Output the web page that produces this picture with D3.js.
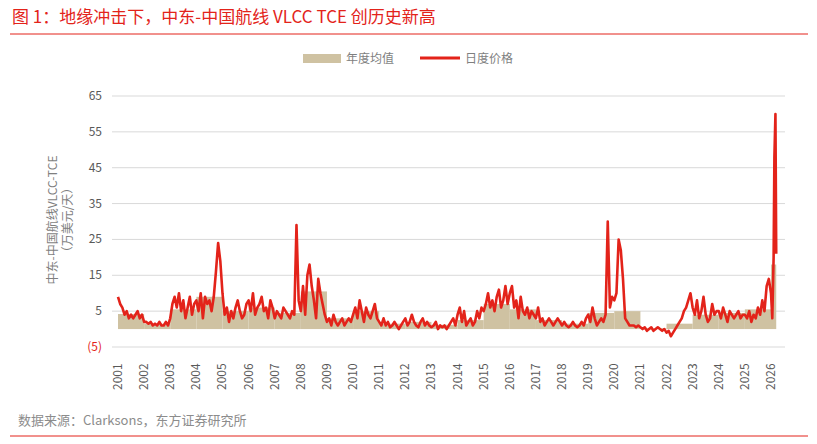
<!DOCTYPE html><html><head><meta charset="utf-8"><script src="https://d3js.org/d3.v7.min.js"></script>
<style>body{margin:0;background:#fff}text{font-family:"Noto Sans CJK SC","Liberation Sans",sans-serif}</style></head><body><svg id="c" width="817" height="444"></svg>
<script>
const years=d3.range(2001,2027);
const annualAvg=[4.2,1.5,5.5,9,5,6,4.5,10.5,3,5,1.5,2,1.2,2.5,7,5.5,2.5,1.5,4.5,5,0.2,1.5,4,4.5,5.5,18];
const monthly={
2001:[9,7,6,4,5,3,4,3,4,5,3,4],2002:[2,2,1.5,2,1,1.5,1,2,1,1,2,1],
2003:[3,7,9,6,10,5,8,3,6,9,4,7],2004:[8,5,10,3,9,7,8,5,9,16,24,19],
2005:[10,4,6,2,5,3,6,8,5,3,4,7],2006:[8,5,10,4,6,7,9,5,6,3,8,6],
2007:[3,5,4,3,6,5,4,3,5,4,29,8],2008:[5,12,4,15,18,12,8,3,14,10,7,4],
2009:[2,3,1,4,2,1,2,3,1,2,3,2],2010:[4,6,3,8,5,2,6,4,3,5,7,3],
2011:[2,1,3,1,2,0.5,1,2,1,0,1,2],2012:[3,1,2,4,2,1,0.5,2,3,1,2,1],
2013:[0.5,1,2,0,1,0.5,1,0,1,2,3,1],2014:[4,6,2,5,1,2,3,1,2,5,3,6],
2015:[5,7,10,6,8,5,9,11,6,8,12,7],2016:[10,12,6,8,3,9,5,4,6,3,5,4],
2017:[3,6,2,3,1,2,3,2,1,2,3,2],2018:[1,2,1,0.5,1,2,1,0.5,1,2,1,3],
2019:[4,2,6,3,1,2,3,2,4,30,6,9],2020:[8,10,25,22,14,3,2,1,1,1,0.5,1],
2021:[0.5,0,0.5,-0.5,0,0.5,-0.5,0,0.5,0,-0.5,0],2022:[-1,-0.5,-2,-1,0,1,2,3,5,6,8,10],
2023:[6,4,8,3,5,9,4,2,3,7,4,5],2024:[5,3,6,4,2,5,4,3,4,5,3,4],
2025:[4,3,5,2,4,3,6,4,8,5,12,14]};
const tail=[[2026.0,10],[2026.05,3],[2026.1,20],[2026.13,48],[2026.17,60],[2026.2,21]];
const yTicks=[65,55,45,35,25,15,5,-5];
const daily=[];years.slice(0,25).forEach(y=>monthly[y].forEach((v,i)=>daily.push([y+i/12,v])));tail.forEach(d=>daily.push(d));
const svg=d3.select("#c");
const x=d3.scaleLinear().domain([2001,2026]).range([118,771]);
const y=d3.scaleLinear().domain([-5,65]).range([347,96]);
svg.append("text").attr("x",12).attr("y",23).attr("fill","#e3231a").attr("font-size",17).text("图 1：地缘冲击下，中东-中国航线 VLCC TCE 创历史新高");
svg.append("line").attr("x1",10).attr("x2",808).attr("y1",34).attr("y2",34).attr("stroke","#e3231a").attr("stroke-width",1);
svg.append("line").attr("x1",10).attr("x2",808).attr("y1",436).attr("y2",436).attr("stroke","#e3231a").attr("stroke-width",1);
svg.append("text").attr("x",18).attr("y",425).attr("fill","#8c8c8c").attr("font-size",13).text("数据来源：Clarksons，东方证券研究所");
svg.append("rect").attr("x",303).attr("y",54).attr("width",38).attr("height",9).attr("fill","#cfc2a2");
svg.append("text").attr("x",346).attr("y",63).attr("fill","#7f7f7f").attr("font-size",12).text("年度均值");
svg.append("line").attr("x1",420).attr("x2",460).attr("y1",58).attr("y2",58).attr("stroke","#e3231a").attr("stroke-width",3);
svg.append("text").attr("x",465).attr("y",63).attr("fill","#7f7f7f").attr("font-size",12).text("日度价格");
svg.selectAll(".g").data(yTicks).join("line").attr("x1",112).attr("x2",785).attr("y1",d=>y(d)).attr("y2",d=>y(d)).attr("stroke","#d9d9d9");
svg.selectAll(".yl").data(yTicks).join("text").attr("x",102).attr("y",d=>y(d)+4).attr("text-anchor","end").attr("font-size",12)
 .attr("fill",d=>d<0?"#e3231a":"#595959").text(d=>d<0?"("+(-d)+")":d);
svg.selectAll(".b").data(annualAvg).join("rect").attr("x",(d,i)=>x(years[i])).attr("width",(d,i)=>x(i==25?2026.2:years[i]+1)-x(years[i]))
 .attr("y",d=>y(d)).attr("height",d=>y(0)-y(d)).attr("fill","#cfc2a2");
svg.append("path").datum(daily).attr("fill","none").attr("stroke","#e3231a").attr("stroke-width",2.6).attr("stroke-linejoin","round")
 .attr("d",d3.line().x(d=>x(d[0])).y(d=>y(d[1])));
svg.selectAll(".xl").data(years).join("text").attr("transform",d=>`translate(${x(d)+4},390) rotate(-90)`).attr("font-size",12).attr("fill","#595959").text(d=>d);
const yt=svg.append("text").attr("transform","translate(57,220) rotate(-90)").attr("text-anchor","middle").attr("font-size",12).attr("fill","#7f7f7f");
yt.append("tspan").attr("x",0).attr("dy",0).text("中东-中国航线VLCC-TCE");
yt.append("tspan").attr("x",0).attr("dy",15).text("（万美元/天）");
</script></body></html>
